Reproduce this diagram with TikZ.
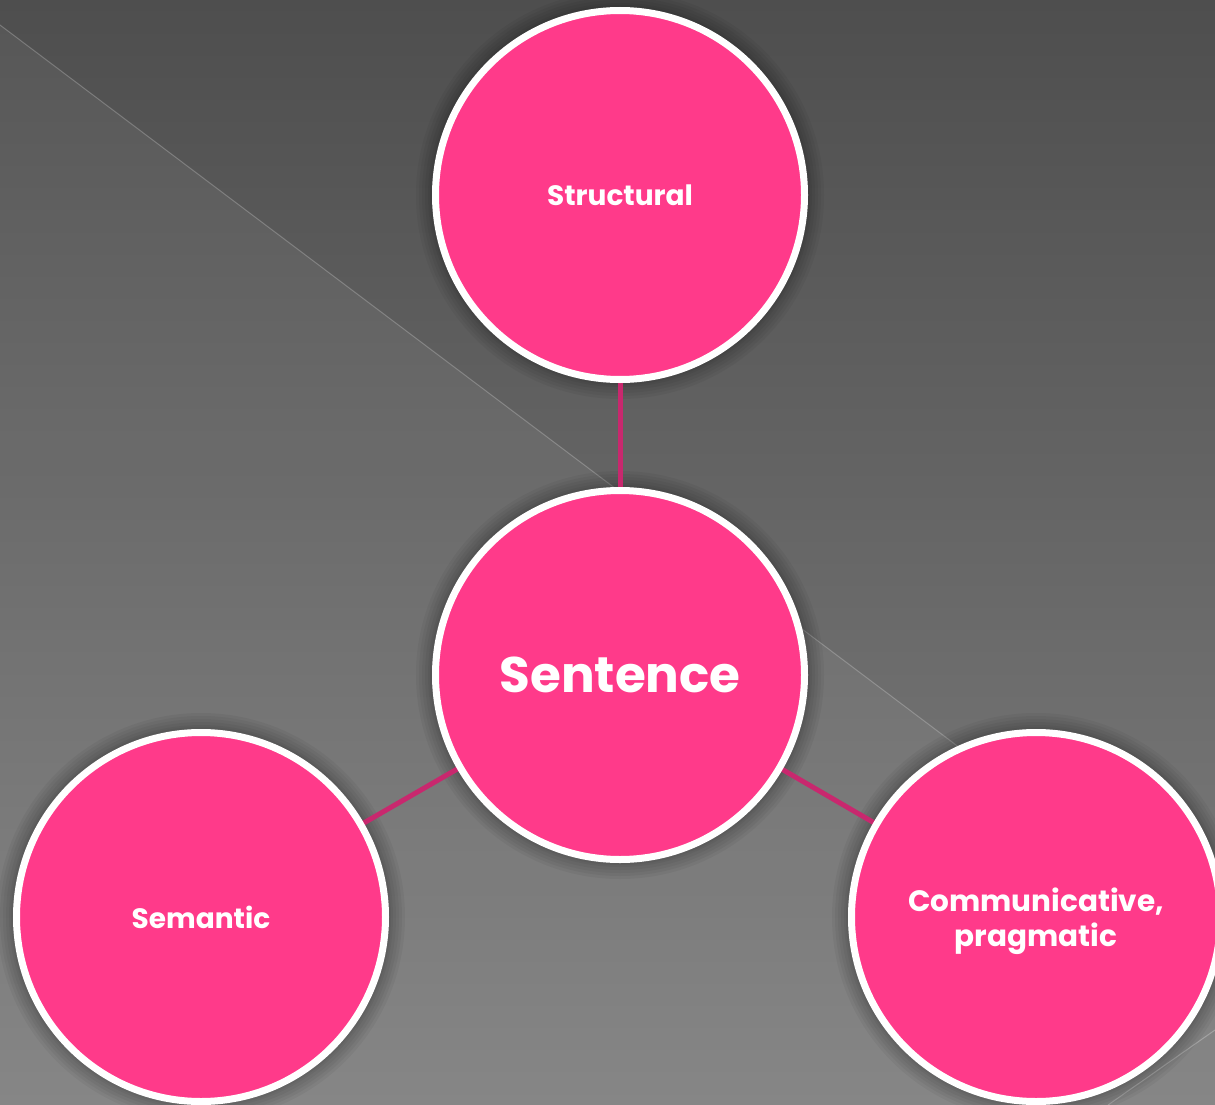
\documentclass[tikz,border=0pt]{standalone}
\usepackage{fontspec}
\setmainfont{Poppins}
\begin{document}
\begin{tikzpicture}[x=1pt,y=-1pt,
  bubble/.style={circle,draw=white,line width=7pt,fill=bubblepink,
    minimum size=369pt,inner sep=0pt,text=white,align=center},
  smalllabel/.style={font=\bfseries\fontsize{28}{35}\selectfont},
  biglabel/.style={font=\bfseries\fontsize{50}{56}\selectfont},
  link/.style={draw=linkpink,line width=5pt},
  halo/.style={fill=black,opacity=0.045}]
\definecolor{bubblepink}{HTML}{FF3A8A}
\definecolor{linkpink}{HTML}{C8286E}
% background
\useasboundingbox (0,0) rectangle (1215,1105);
\shade[top color={rgb,255:red,78;green,78;blue,78},bottom color={rgb,255:red,128;green,128;blue,128}]
  (0,0) rectangle (1215,1105);
\fill[white,opacity=0.05] (0,25) -- (1215,940) -- (1215,1105) -- (0,1105) -- cycle;
\draw[white,opacity=0.22,line width=1pt] (0,25) -- (1215,940);
\draw[white,opacity=0.25,line width=1pt] (1108,1105) -- (1215,1030);
% centres
\coordinate (cst) at (620,195);
\coordinate (cse) at (620,675);
\coordinate (csm) at (201,917);
\coordinate (ccp) at (1036,917);
% soft shadows
\foreach \c in {cst,cse,csm,ccp}{
  \foreach \r in {204,201,198,195,192,190}{
    \fill[halo] (\c) circle (\r);
  }
}
% connectors
\draw[link] (cst) -- (cse);
\draw[link] (cse) -- (csm);
\draw[link] (cse) -- (ccp);
% circles
\node[bubble,smalllabel] (st) at (cst) {Structural};
\node[bubble,biglabel] (se) at (cse) {Sentence};
\node[bubble,smalllabel] (sm) at (csm) {Semantic};
\node[bubble,smalllabel,font=\bfseries\fontsize{29.5}{35}\selectfont,
  text depth=0pt] (cp) at (ccp) {Communicative,\\pragmatic};
\end{tikzpicture}
\end{document}
